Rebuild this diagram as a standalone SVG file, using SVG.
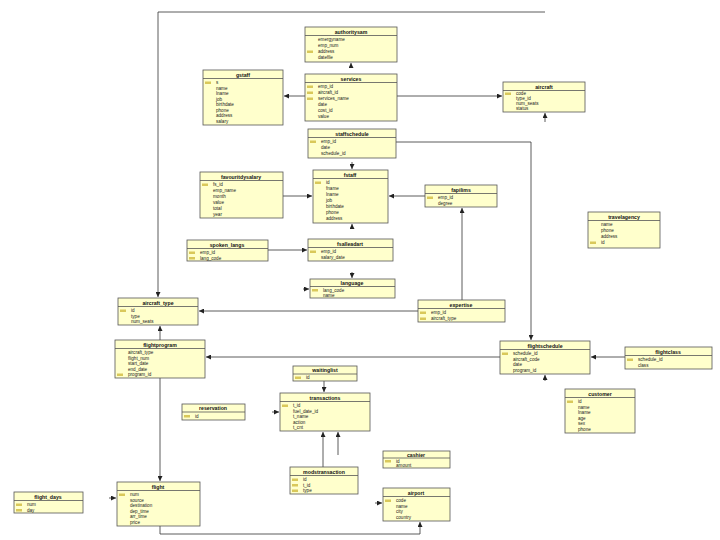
<svg xmlns="http://www.w3.org/2000/svg" width="720" height="540" viewBox="0 0 720 540">
<defs>
<marker id="ah" viewBox="0 0 6 6" refX="6" refY="3" markerWidth="5" markerHeight="5" markerUnits="userSpaceOnUse" orient="auto"><path d="M0,0 L6,3 L0,6 z" fill="#222"/></marker>
</defs>
<style>
.box{fill:#ffffcc;stroke:#555;stroke-width:0.8}
.sep{stroke:#555;stroke-width:0.8}
.t{font-family:"Liberation Sans",Arial,sans-serif;font-size:5.2px;font-weight:bold;fill:#111;text-anchor:middle}
.f{font-family:"Liberation Sans",Arial,sans-serif;font-size:4.6px;fill:#222}
.k{fill:#d9c85a}
.c{fill:none;stroke:#333;stroke-width:0.8;marker-end:url(#ah)}
.cl{fill:none;stroke:#333;stroke-width:0.8}
</style>
<rect width="720" height="540" fill="#ffffff"/>

<g id="connectors">
<polyline class="c" points="545,12 158,12 158,297"/>
<line class="c" x1="305" y1="96" x2="284" y2="96"/>
<line class="c" x1="397" y1="96" x2="502" y2="96"/>
<line class="c" x1="351" y1="67" x2="351" y2="63"/>
<line class="c" x1="545" y1="122" x2="545" y2="113"/>
<polyline class="c" points="396,142 531,142 531,340"/>
<line class="c" x1="352" y1="162" x2="352" y2="169"/>
<line class="c" x1="283" y1="196" x2="312" y2="196"/>
<line class="c" x1="425" y1="196" x2="389" y2="196"/>
<line class="c" x1="352" y1="229" x2="352" y2="224"/>
<line class="c" x1="462" y1="300" x2="462" y2="208"/>
<line class="c" x1="268" y1="250" x2="307" y2="250"/>
<line class="c" x1="352" y1="272" x2="352" y2="278"/>
<line class="c" x1="303" y1="289" x2="309" y2="289"/>
<line class="c" x1="418" y1="311" x2="199" y2="311"/>
<line class="c" x1="160" y1="340" x2="160" y2="326"/>
<line class="c" x1="500" y1="357" x2="206" y2="357"/>
<line class="c" x1="160" y1="378" x2="160" y2="481"/>
<line class="c" x1="625" y1="357" x2="591" y2="357"/>
<line class="c" x1="545" y1="381" x2="545" y2="375"/>
<line class="c" x1="324" y1="381" x2="324" y2="392"/>
<line class="c" x1="272" y1="412" x2="279" y2="412"/>
<line class="c" x1="323" y1="467" x2="323" y2="432"/>
<line class="c" x1="338" y1="455" x2="338" y2="432"/>
<line class="c" x1="109" y1="498" x2="116" y2="498"/>
<line class="c" x1="375" y1="503" x2="382" y2="503"/>
<polyline class="c" points="160,526 160,534 420,534 420,522"/>
</g>

<g id="authoritysam">
<rect class="box" x="305" y="27" width="92" height="35"/>
<text class="t" x="351" y="33.5">authoritysam</text>
<line class="sep" x1="305" y1="35.5" x2="397" y2="35.5"/>
<text class="f" x="318" y="41">emergyname</text>
<text class="f" x="318" y="47">emp_num</text>
<rect class="k" x="307" y="50.5" width="6" height="2.5"/><text class="f" x="318" y="53">address</text>
<text class="f" x="318" y="59">datefile</text>
</g>

<g id="services">
<rect class="box" x="305" y="74" width="92" height="47"/>
<text class="t" x="351" y="80.5">services</text>
<line class="sep" x1="305" y1="82.5" x2="397" y2="82.5"/>
<rect class="k" x="307" y="85.5" width="6" height="2.5"/><text class="f" x="318" y="88">emp_id</text>
<rect class="k" x="307" y="91.5" width="6" height="2.5"/><text class="f" x="318" y="94">aircraft_id</text>
<rect class="k" x="307" y="97.5" width="6" height="2.5"/><text class="f" x="318" y="100">services_name</text>
<text class="f" x="318" y="106">date</text>
<text class="f" x="318" y="112">cost_id</text>
<text class="f" x="318" y="118">value</text>
</g>

<g id="gstaff">
<rect class="box" x="203" y="70" width="80" height="55"/>
<text class="t" x="243" y="76.5">gstaff</text>
<line class="sep" x1="203" y1="78.5" x2="283" y2="78.5"/>
<rect class="k" x="205" y="81.5" width="6" height="2.5"/><text class="f" x="216" y="84">s</text>
<text class="f" x="216" y="89.5">name</text>
<text class="f" x="216" y="95">lname</text>
<text class="f" x="216" y="100.5">job</text>
<text class="f" x="216" y="106">birthdate</text>
<text class="f" x="216" y="111.5">phone</text>
<text class="f" x="216" y="117">address</text>
<text class="f" x="216" y="122.5">salary</text>
</g>

<g id="aircraft">
<rect class="box" x="503" y="82" width="82" height="30"/>
<text class="t" x="544" y="88.5">aircraft</text>
<line class="sep" x1="503" y1="90.5" x2="585" y2="90.5"/>
<rect class="k" x="505" y="92.5" width="6" height="2.5"/><text class="f" x="516" y="95">code</text>
<text class="f" x="516" y="100">type_id</text>
<text class="f" x="516" y="105">num_seats</text>
<text class="f" x="516" y="110">status</text>
</g>

<g id="staffschedule">
<rect class="box" x="308" y="129" width="88" height="29"/>
<text class="t" x="352" y="135.5">staffschedule</text>
<line class="sep" x1="308" y1="137.5" x2="396" y2="137.5"/>
<rect class="k" x="310" y="140.5" width="6" height="2.5"/><text class="f" x="321" y="143">emp_id</text>
<text class="f" x="321" y="149">date</text>
<text class="f" x="321" y="155">schedule_id</text>
</g>

<g id="fstaff">
<rect class="box" x="313" y="170" width="75" height="53"/>
<text class="t" x="350" y="176.5">fstaff</text>
<line class="sep" x1="313" y1="178.5" x2="388" y2="178.5"/>
<rect class="k" x="315" y="181.5" width="6" height="2.5"/><text class="f" x="326" y="184">id</text>
<text class="f" x="326" y="190">fname</text>
<text class="f" x="326" y="196">lname</text>
<text class="f" x="326" y="202">job</text>
<text class="f" x="326" y="208">birthdate</text>
<text class="f" x="326" y="214">phone</text>
<text class="f" x="326" y="220">address</text>
</g>

<g id="favouritdysalary">
<rect class="box" x="200" y="172" width="83" height="46"/>
<text class="t" x="241" y="178.5">favouritdysalary</text>
<line class="sep" x1="200" y1="180.5" x2="283" y2="180.5"/>
<rect class="k" x="202" y="183.5" width="6" height="2.5"/><text class="f" x="213" y="186">fs_id</text>
<text class="f" x="213" y="192">emp_name</text>
<text class="f" x="213" y="198">month</text>
<text class="f" x="213" y="204">value</text>
<text class="f" x="213" y="210">total</text>
<text class="f" x="213" y="216">year</text>
</g>

<g id="fapilims">
<rect class="box" x="425" y="185" width="72" height="22"/>
<text class="t" x="461" y="191.5">fapilims</text>
<line class="sep" x1="425" y1="193.5" x2="497" y2="193.5"/>
<rect class="k" x="427" y="196.5" width="6" height="2.5"/><text class="f" x="438" y="199">emp_id</text>
<text class="f" x="438" y="205">degree</text>
</g>

<g id="travelagency">
<rect class="box" x="588" y="212" width="72" height="36"/>
<text class="t" x="624" y="218.5">travelagency</text>
<line class="sep" x1="588" y1="220.5" x2="660" y2="220.5"/>
<text class="f" x="601" y="226">name</text>
<text class="f" x="601" y="232">phone</text>
<text class="f" x="601" y="238">address</text>
<rect class="k" x="590" y="241.5" width="6" height="2.5"/><text class="f" x="601" y="244">id</text>
</g>

<g id="spoken_langs">
<rect class="box" x="187" y="240" width="81" height="21"/>
<text class="t" x="227" y="246.5">spoken_langs</text>
<line class="sep" x1="187" y1="248.5" x2="268" y2="248.5"/>
<rect class="k" x="189" y="251.5" width="6" height="2.5"/><text class="f" x="200" y="254">emp_id</text>
<rect class="k" x="189" y="257" width="6" height="2.5"/><text class="f" x="200" y="259.5">lang_code</text>
</g>

<g id="fsalleadart">
<rect class="box" x="308" y="239" width="85" height="22"/>
<text class="t" x="350" y="245.5">fsalleadart</text>
<line class="sep" x1="308" y1="247.5" x2="393" y2="247.5"/>
<rect class="k" x="310" y="250.5" width="6" height="2.5"/><text class="f" x="321" y="253">emp_id</text>
<text class="f" x="321" y="259">salary_date</text>
</g>

<g id="language">
<rect class="box" x="310" y="279" width="85" height="19"/>
<text class="t" x="352" y="284.5">language</text>
<line class="sep" x1="310" y1="286.5" x2="395" y2="286.5"/>
<rect class="k" x="312" y="289" width="6" height="2.5"/><text class="f" x="323" y="291.5">lang_code</text>
<text class="f" x="323" y="296.5">name</text>
</g>

<g id="aircraft_type">
<rect class="box" x="118" y="298" width="80" height="27"/>
<text class="t" x="158" y="304.5">aircraft_type</text>
<line class="sep" x1="118" y1="306.5" x2="198" y2="306.5"/>
<rect class="k" x="120" y="309.5" width="6" height="2.5"/><text class="f" x="131" y="312">id</text>
<text class="f" x="131" y="317.5">type</text>
<text class="f" x="131" y="323">num_seats</text>
</g>

<g id="expertise">
<rect class="box" x="418" y="300" width="87" height="22"/>
<text class="t" x="461" y="306.5">expertise</text>
<line class="sep" x1="418" y1="308.5" x2="505" y2="308.5"/>
<rect class="k" x="420" y="311.5" width="6" height="2.5"/><text class="f" x="431" y="314">emp_id</text>
<rect class="k" x="420" y="317.5" width="6" height="2.5"/><text class="f" x="431" y="320">aircraft_type</text>
</g>

<g id="flightprogram">
<rect class="box" x="115" y="340" width="90" height="38"/>
<text class="t" x="160" y="346.5">flightprogram</text>
<line class="sep" x1="115" y1="348.5" x2="205" y2="348.5"/>
<text class="f" x="128" y="354">aircraft_type</text>
<text class="f" x="128" y="359.5">flight_num</text>
<text class="f" x="128" y="365">start_date</text>
<text class="f" x="128" y="370.5">end_date</text>
<rect class="k" x="117" y="373.5" width="6" height="2.5"/><text class="f" x="128" y="376">program_id</text>
</g>

<g id="flightschedule">
<rect class="box" x="500" y="341" width="90" height="33"/>
<text class="t" x="545" y="347.5">flightschedule</text>
<line class="sep" x1="500" y1="349.5" x2="590" y2="349.5"/>
<rect class="k" x="502" y="352.5" width="6" height="2.5"/><text class="f" x="513" y="355">schedule_id</text>
<text class="f" x="513" y="360.5">aircraft_code</text>
<text class="f" x="513" y="366">date</text>
<text class="f" x="513" y="371.5">program_id</text>
</g>

<g id="flightclass">
<rect class="box" x="625" y="347" width="87" height="22"/>
<text class="t" x="668" y="353.5">flightclass</text>
<line class="sep" x1="625" y1="355.5" x2="712" y2="355.5"/>
<rect class="k" x="627" y="358.5" width="6" height="2.5"/><text class="f" x="638" y="361">schedule_id</text>
<text class="f" x="638" y="366.5">class</text>
</g>

<g id="waitinglist">
<rect class="box" x="293" y="366" width="64" height="15"/>
<text class="t" x="325" y="372">waitinglist</text>
<line class="sep" x1="293" y1="374" x2="357" y2="374"/>
<rect class="k" x="295" y="376.5" width="6" height="2.5"/><text class="f" x="306" y="379">id</text>
</g>

<g id="transactions">
<rect class="box" x="280" y="393" width="90" height="38"/>
<text class="t" x="325" y="399.5">transactions</text>
<line class="sep" x1="280" y1="401.5" x2="370" y2="401.5"/>
<rect class="k" x="282" y="404.5" width="6" height="2.5"/><text class="f" x="293" y="407">t_id</text>
<text class="f" x="293" y="412.5">fuel_date_id</text>
<text class="f" x="293" y="418">t_name</text>
<text class="f" x="293" y="423.5">action</text>
<text class="f" x="293" y="429">t_cnt</text>
</g>

<g id="reservation">
<rect class="box" x="182" y="404" width="63" height="16"/>
<text class="t" x="213" y="410">reservation</text>
<line class="sep" x1="182" y1="412" x2="245" y2="412"/>
<rect class="k" x="184" y="415" width="6" height="2.5"/><text class="f" x="195" y="417.5">id</text>
</g>

<g id="customer">
<rect class="box" x="565" y="389" width="70" height="44"/>
<text class="t" x="600" y="395.5">customer</text>
<line class="sep" x1="565" y1="397.5" x2="635" y2="397.5"/>
<rect class="k" x="567" y="400.5" width="6" height="2.5"/><text class="f" x="578" y="403">id</text>
<text class="f" x="578" y="408.5">name</text>
<text class="f" x="578" y="414">lname</text>
<text class="f" x="578" y="419.5">age</text>
<text class="f" x="578" y="425">sex</text>
<text class="f" x="578" y="430.5">phone</text>
</g>

<g id="cashier">
<rect class="box" x="383" y="451" width="67" height="17"/>
<text class="t" x="416" y="456.5">cashier</text>
<line class="sep" x1="383" y1="458" x2="450" y2="458"/>
<rect class="k" x="385" y="460" width="6" height="2.5"/><text class="f" x="396" y="462.5">id</text>
<text class="f" x="396" y="467">amount</text>
</g>

<g id="modstransaction">
<rect class="box" x="290" y="467" width="68" height="27"/>
<text class="t" x="324" y="473.5">modstransaction</text>
<line class="sep" x1="290" y1="475.5" x2="358" y2="475.5"/>
<rect class="k" x="292" y="478.5" width="6" height="2.5"/><text class="f" x="303" y="481">id</text>
<rect class="k" x="292" y="484" width="6" height="2.5"/><text class="f" x="303" y="486.5">t_id</text>
<rect class="k" x="292" y="489.5" width="6" height="2.5"/><text class="f" x="303" y="492">type</text>
</g>

<g id="flight">
<rect class="box" x="117" y="482" width="83" height="44"/>
<text class="t" x="158" y="488.5">flight</text>
<line class="sep" x1="117" y1="490.5" x2="200" y2="490.5"/>
<rect class="k" x="119" y="493.5" width="6" height="2.5"/><text class="f" x="130" y="496">num</text>
<text class="f" x="130" y="501.5">source</text>
<text class="f" x="130" y="507">destination</text>
<text class="f" x="130" y="512.5">dep_time</text>
<text class="f" x="130" y="518">arr_time</text>
<text class="f" x="130" y="523.5">price</text>
</g>

<g id="flight_days">
<rect class="box" x="14" y="492" width="69" height="21"/>
<text class="t" x="48" y="498.5">flight_days</text>
<line class="sep" x1="14" y1="500.5" x2="83" y2="500.5"/>
<rect class="k" x="16" y="503.5" width="6" height="2.5"/><text class="f" x="27" y="506">num</text>
<rect class="k" x="16" y="509" width="6" height="2.5"/><text class="f" x="27" y="511.5">day</text>
</g>

<g id="airport">
<rect class="box" x="383" y="488" width="67" height="33"/>
<text class="t" x="416" y="494.5">airport</text>
<line class="sep" x1="383" y1="496.5" x2="450" y2="496.5"/>
<rect class="k" x="385" y="499.5" width="6" height="2.5"/><text class="f" x="396" y="502">code</text>
<text class="f" x="396" y="507.5">name</text>
<text class="f" x="396" y="513">city</text>
<text class="f" x="396" y="518.5">country</text>
</g>
</svg>
